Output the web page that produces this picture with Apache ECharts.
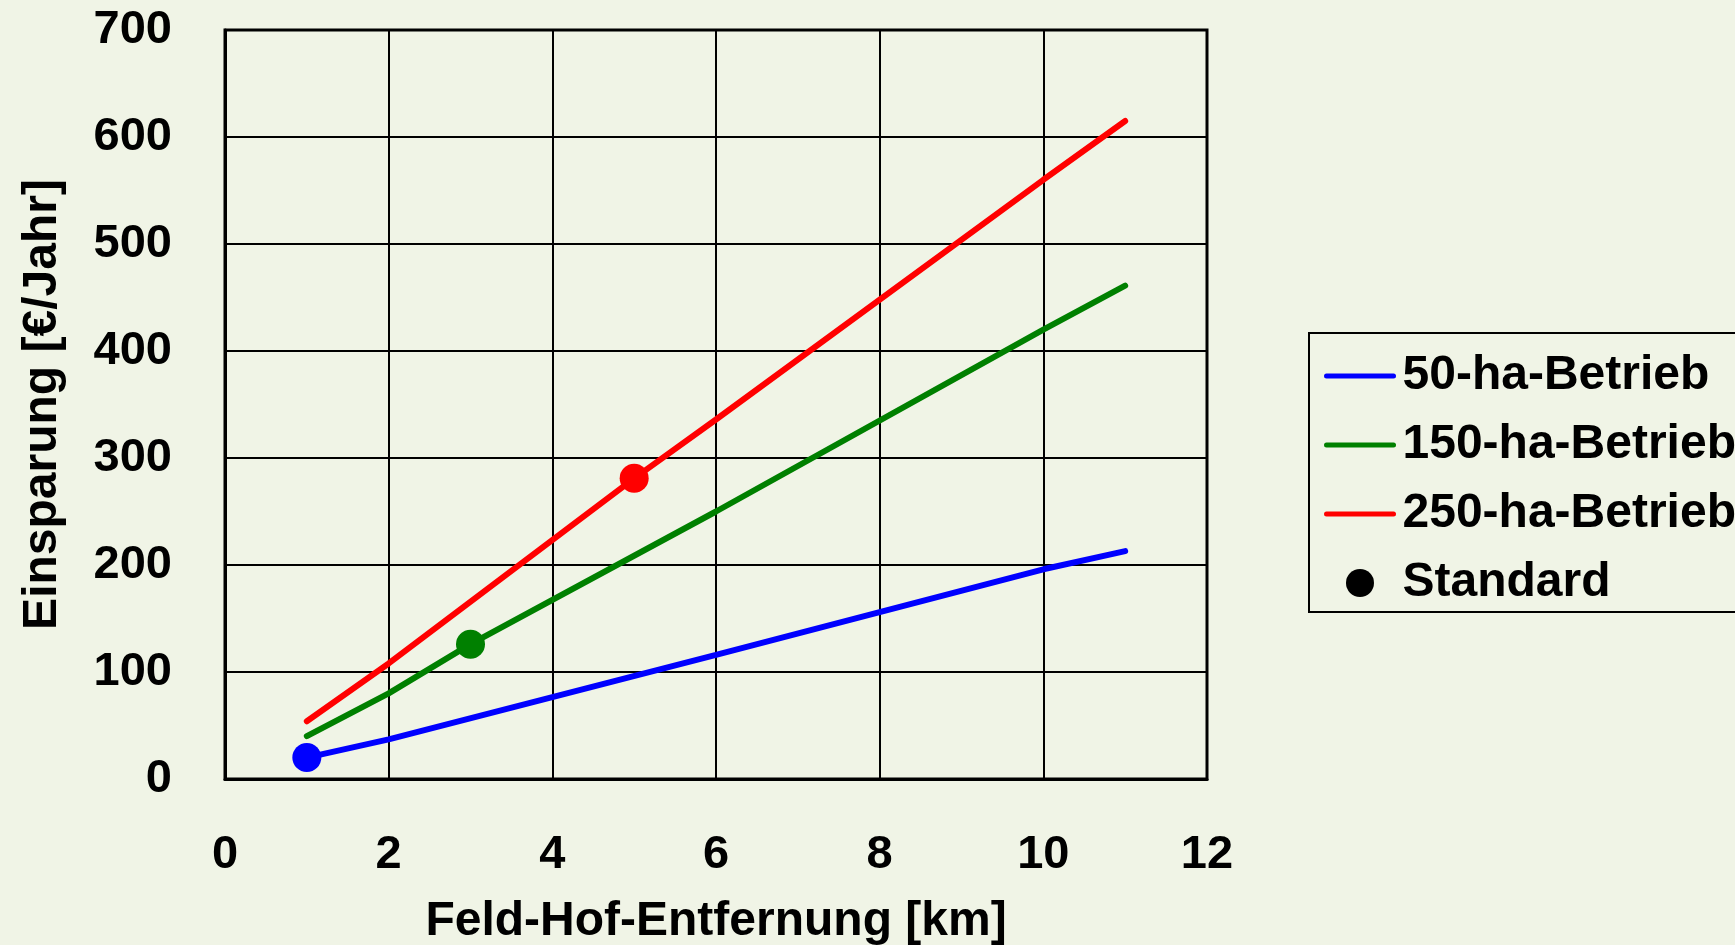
<!DOCTYPE html>
<html>
<head>
<meta charset="utf-8">
<script src="https://cdn.jsdelivr.net/npm/echarts@6/dist/echarts.min.js"></script>
<style>
html,body{margin:0;padding:0;background:#f0f4e6;}
#chart{width:1735px;height:945px;}
</style>
</head>
<body>
<div id="chart"></div>
<script>
const seriesNames = ['50-ha-Betrieb', '150-ha-Betrieb', '250-ha-Betrieb'];
const standardName = 'Standard';
const xTitle = 'Feld-Hof-Entfernung [km]';
const yTitle = 'Einsparung [€/Jahr]';
// [km, €/Jahr]
const blue50 = [[1, 20], [2, 37], [6, 116], [10, 196], [11, 213]];
const green150 = [[1, 40], [2, 80], [3, 126], [6, 250], [10, 420], [11, 461]];
const red250 = [[1, 54], [2, 108], [5, 281], [6, 336], [10, 560], [11, 615]];
const standardPts = [[1, 20], [3, 126], [5, 281]];
const colors = ['#0000ff', '#008000', '#ff0000'];

const font = "'Liberation Sans', Arial, sans-serif";
const chart = echarts.init(document.getElementById('chart'));
const lineData = [blue50, green150, red250];

const series = lineData.map((d, i) => ({
  name: seriesNames[i],
  type: 'line',
  data: d,
  symbol: 'none',
  color: colors[i],
  lineStyle: { width: 6, color: colors[i], cap: 'round' },
  z: 3
}));
series.push({
  name: standardName,
  type: 'scatter',
  data: standardPts.map((p, i) => ({ value: p, itemStyle: { color: colors[i], opacity: 1 } })),
  symbol: 'circle',
  symbolSize: 29,
  itemStyle: { color: '#000', opacity: 1 },
  z: 5
});

const legendLineItem = (name, c) => ({
  name: name,
  itemStyle: { opacity: 0 },
  lineStyle: { width: 5, color: c, cap: 'round', opacity: 1 }
});

chart.setOption({
  backgroundColor: '#f0f4e6',
  animation: false,
  grid: { left: 225, right: 528, top: 30, bottom: 166, outerBoundsMode: 'none', containLabel: false, show: true, borderColor: '#000', borderWidth: 3, backgroundColor: 'transparent' },
  xAxis: {
    type: 'value', min: 0, max: 12, interval: 2,
    name: xTitle, nameLocation: 'middle', nameGap: 119,
    nameTextStyle: { fontFamily: font, fontWeight: 'bold', fontSize: 48, color: '#000' },
    axisLine: { show: true, lineStyle: { color: '#000', width: 3 } },
    axisTick: { show: false },
    axisLabel: { margin: 53, fontFamily: font, fontWeight: 'bold', fontSize: 47, color: '#000' },
    splitLine: { show: true, lineStyle: { color: '#000', width: 2 } }
  },
  yAxis: {
    type: 'value', min: 0, max: 700, interval: 100,
    name: yTitle, nameLocation: 'middle', nameGap: 158,
    nameTextStyle: { fontFamily: font, fontWeight: 'bold', fontSize: 48, color: '#000' },
    axisLine: { show: true, lineStyle: { color: '#000', width: 3 } },
    axisTick: { show: false },
    axisLabel: { margin: 53, fontFamily: font, fontWeight: 'bold', fontSize: 47, color: '#000' },
    splitLine: { show: true, lineStyle: { color: '#000', width: 2 } }
  },
  legend: {
    orient: 'vertical',
    left: 1309, top: 333,
    padding: [19, 300, 5, 15],
    borderColor: '#000', borderWidth: 2,
    itemWidth: 67, itemHeight: 28, itemGap: 21,
    data: [
      legendLineItem(seriesNames[0], colors[0]),
      legendLineItem(seriesNames[1], colors[1]),
      legendLineItem(seriesNames[2], colors[2]),
      { name: standardName, icon: 'circle', itemStyle: { color: '#000', opacity: 1 } }
    ],
    textStyle: { fontFamily: font, fontWeight: 'bold', fontSize: 48, color: '#000', padding: [0, 0, 0, 4] }
  },
  series: series
});
</script>
</body>
</html>
